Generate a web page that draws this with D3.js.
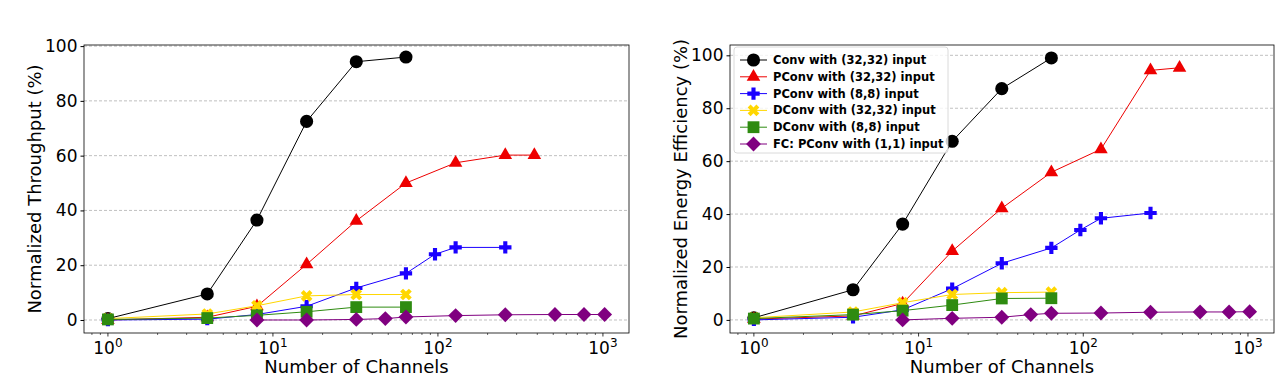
<!DOCTYPE html>
<html>
<head>
<meta charset="utf-8">
<script src="https://cdn.jsdelivr.net/npm/d3@7"></script>
<style>
body { margin: 0; background: #fff; }
text { font-family: "DejaVu Sans", sans-serif; fill: #000; }
</style>
</head>
<body>
<script>
// channel counts used by each series
var xConv = [1, 4, 8, 16, 32, 64];
var xPConv32 = [1, 4, 8, 16, 32, 64, 128, 256, 384];
var xPConv8 = [1, 4, 8, 16, 32, 64, 96, 128, 256];
var xDConv = [1, 4, 8, 16, 32, 64];
var xFC = [8, 16, 32, 48, 64, 128, 256, 512, 768, 1024];

// throughput (left)
var tpConv = [0.5, 9.5, 36.5, 72.5, 94.3, 96];
var tpPConv32 = [0, 1, 5, 20.3, 36.2, 50, 57.4, 60.2, 60.2];
var tpPConv8 = [0, 0.3, 2, 5, 11.7, 17, 24, 26.5, 26.5];
var tpDConv32 = [0.5, 2.2, 5.2, 8.8, 9.3, 9.3];
var tpDConv8 = [0.2, 0.7, 1.7, 3, 4.7, 4.7];
var tpFC = [0, 0, 0.2, 0.5, 1.1, 1.6, 1.9, 2, 2, 2];

// energy efficiency (right)
var eeConv = [0.8, 11.4, 36.2, 67.5, 87.4, 99];
var eePConv32 = [0.3, 1.5, 6.2, 26, 42.2, 55.8, 64.5, 94.3, 95.3];
var eePConv8 = [0, 1, 3.8, 11.8, 21.4, 27.2, 34, 38.4, 40.4];
var eeDConv32 = [0.8, 3, 6.5, 9.6, 10.3, 10.5];
var eeDConv8 = [0.5, 2, 3.5, 5.6, 8.1, 8.2];
var eeFC = [0, 0.6, 1, 2, 2.5, 2.6, 2.9, 3, 3, 3.1];

var seriesNames = ["Conv with (32,32) input", "PConv with (32,32) input", "PConv with (8,8) input",
  "DConv with (32,32) input", "DConv with (8,8) input", "FC: PConv with (1,1) input"];
var seriesColors = ["black", "#ee0000", "#1a00ff", "#ffd700", "#2e8b10", "#800080"];
var seriesMarkers = ["circle", "triangle", "plus", "x", "square", "diamond"];
var seriesX = [xConv, xPConv32, xPConv8, xDConv, xDConv, xFC];

var yTicks = [0, 20, 40, 60, 80, 100];
var xMajor = [1, 10, 100, 1000];

var W = 1286, H = 376;
var svg = d3.select("body").append("svg").attr("width", W).attr("height", H);

function markerPath(type) {
  var s;
  if (type == "circle") s = d3.symbol(d3.symbolCircle, 135);
  else if (type == "triangle") s = d3.symbol(d3.symbolTriangle, 80);
  else if (type == "plus") s = d3.symbol(d3.symbolCross, 85);
  else if (type == "x") s = d3.symbol(d3.symbolCross, 85);
  else if (type == "square") s = d3.symbol(d3.symbolSquare, 140);
  else s = d3.symbol(d3.symbolSquare, 110);
  return s();
}
function markerRot(type) {
  return (type == "x" || type == "diamond") ? 45 : 0;
}

function drawPanel(opt) {
  var g = svg.append("g");
  var x = d3.scaleLog().domain([Math.pow(10, -0.145), Math.pow(10, 3.158)]).range([opt.left, opt.right]);
  var y = d3.scaleLinear().domain(opt.ydom).range([opt.bottom, opt.top]);

  // grid
  g.selectAll(".grid").data(yTicks).enter().append("line")
    .attr("x1", opt.left).attr("x2", opt.right)
    .attr("y1", function(d){ return y(d); }).attr("y2", function(d){ return y(d); })
    .attr("stroke", "#b0b0b0").attr("stroke-width", 0.8).attr("stroke-dasharray", "3,2");

  // x axis with log ticks
  var xAxis = d3.axisBottom(x).tickSizeOuter(0).tickSize(0).tickFormat("");
  var minor = [];
  for (var e = 0; e < 4; e++) for (var k = 2; k < 10; k++) {
    var v = k * Math.pow(10, e - 1);
    if (x(v) >= opt.left && x(v) <= opt.right) minor.push(v);
  }
  var ax = g.append("g").attr("transform", "translate(0," + opt.bottom + ")").call(xAxis);
  ax.select(".domain").remove();
  ax.selectAll(".minor").data(minor).enter().append("line").attr("class", "minor")
    .attr("x1", function(d){ return x(d); }).attr("x2", function(d){ return x(d); })
    .attr("y1", 0).attr("y2", 2).attr("stroke", "black").attr("stroke-width", 0.6);
  ax.selectAll(".major").data(xMajor).enter().append("line").attr("class", "major")
    .attr("x1", function(d){ return x(d); }).attr("x2", function(d){ return x(d); })
    .attr("y1", 0).attr("y2", 3.5).attr("stroke", "black").attr("stroke-width", 0.8);
  var lab = ax.selectAll(".xl").data(xMajor).enter().append("text").attr("class", "xl")
    .attr("x", function(d){ return x(d); }).attr("y", 21)
    .attr("text-anchor", "middle").style("font-size", "17px");
  lab.append("tspan").text("10");
  lab.append("tspan").attr("dy", -7).style("font-size", "12px")
    .text(function(d){ return Math.round(Math.log10(d)); });

  // y axis
  var yAxis = d3.axisLeft(y).tickValues(yTicks).tickSize(3.5).tickSizeOuter(0).tickPadding(3);
  var ay = g.append("g").attr("transform", "translate(" + opt.left + ",0)").call(yAxis);
  ay.select(".domain").remove();
  ay.selectAll("text").style("font-size", "17px").attr("font-family", null);

  // frame
  g.append("rect").attr("x", opt.left).attr("y", opt.top)
    .attr("width", opt.right - opt.left).attr("height", opt.bottom - opt.top)
    .attr("fill", "none").attr("stroke", "black").attr("stroke-width", 0.8);

  // series
  var line = d3.line().x(function(d){ return x(d[0]); }).y(function(d){ return y(d[1]); });
  opt.values.forEach(function(vals, i) {
    var pts = seriesX[i].map(function(xv, j){ return [xv, vals[j]]; });
    var sg = g.append("g");
    sg.append("path").datum(pts).attr("d", line)
      .attr("fill", "none").attr("stroke", seriesColors[i]).attr("stroke-width", 1);
    sg.selectAll("path.m").data(pts).enter().append("path").attr("class", "m")
      .attr("d", markerPath(seriesMarkers[i]))
      .attr("transform", function(d){ return "translate(" + x(d[0]) + "," + y(d[1]) + ") rotate(" + markerRot(seriesMarkers[i]) + ")"; })
      .attr("fill", seriesColors[i]);
  });

  // axis labels
  g.append("text").attr("x", (opt.left + opt.right) / 2).attr("y", 373)
    .attr("text-anchor", "middle").style("font-size", "18px").text("Number of Channels");
  g.append("text").attr("transform", "translate(" + opt.ylabX + "," + ((opt.top + opt.bottom) / 2) + ") rotate(-90)")
    .attr("text-anchor", "middle").style("font-size", "18px").text(opt.ylabel);

  return g;
}

drawPanel({ left: 84, right: 629, top: 45, bottom: 333, ydom: [-4.75, 100.4],
  values: [tpConv, tpPConv32, tpPConv8, tpDConv32, tpDConv8, tpFC],
  ylabel: "Normalized Throughput (%)", ylabX: 41 });

var right = drawPanel({ left: 730, right: 1274, top: 45, bottom: 333, ydom: [-4.95, 103.9],
  values: [eeConv, eePConv32, eePConv8, eeDConv32, eeDConv8, eeFC],
  ylabel: "Normalized Energy Efficiency (%)", ylabX: 687 });

// legend
var lg = svg.append("g").attr("transform", "translate(734,47)");
lg.append("rect").attr("width", 214).attr("height", 106).attr("rx", 3)
  .attr("fill", "white").attr("fill-opacity", 0.8).attr("stroke", "#d0d0d0").attr("stroke-width", 0.8);
seriesNames.forEach(function(name, i) {
  var row = lg.append("g").attr("transform", "translate(0," + (13 + i * 16.8) + ")");
  row.append("line").attr("x1", 6).attr("x2", 33).attr("stroke", seriesColors[i]).attr("stroke-width", 1);
  row.append("path").attr("d", markerPath(seriesMarkers[i]))
    .attr("transform", "translate(19.5,0) rotate(" + markerRot(seriesMarkers[i]) + ")")
    .attr("fill", seriesColors[i]);
  row.append("text").attr("x", 39).attr("y", 4).style("font-size", "11.5px").style("font-weight", "bold").text(name);
});
</script>
</body>
</html>
